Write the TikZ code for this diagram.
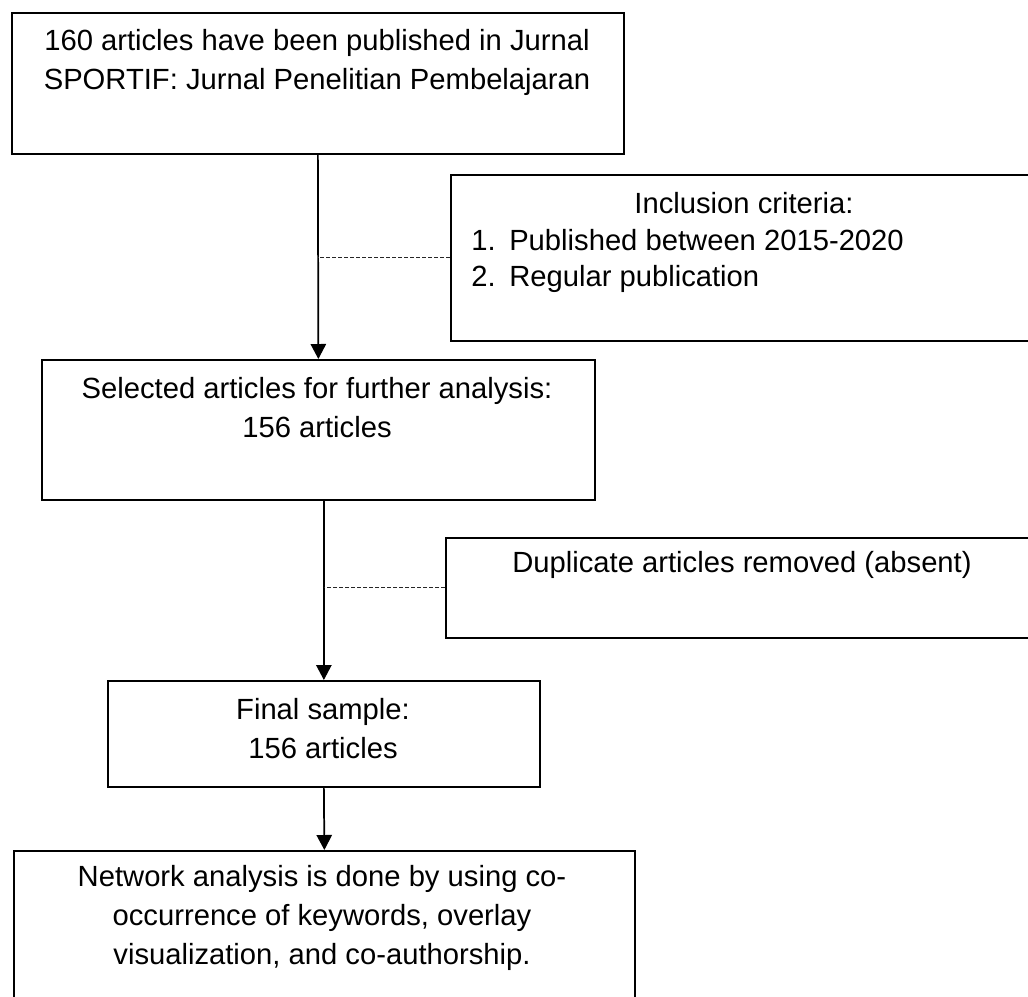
\documentclass[tikz,border=0pt]{standalone}
\usepackage{fontspec}
\setmainfont{Liberation Sans}
\usetikzlibrary{arrows.meta}
\begin{document}
\begin{tikzpicture}[x=0.75pt,y=-0.75pt,
  box/.style={draw, line width=1.3pt, inner sep=0pt, anchor=north west},
  txt/.style={inner sep=0pt, align=center, font=\fontsize{21.9}{29.25}\selectfont},
  arr/.style={line width=1.3pt, -{Triangle[length=11.25pt,width=11.5pt]}},
  dsh/.style={line width=0.75pt, dash pattern=on 3pt off 1.5pt, draw=black!85}]
\useasboundingbox (0,0) rectangle (1028,996);
\clip (0,0) rectangle (1028,996);
\fill[white] (0,0) rectangle (1028,996);
% boxes
\node[box, minimum width=459pt, minimum height=105.75pt] (b1) at (11,12) {};
\node[box, minimum width=442.5pt, minimum height=124.5pt] (b2) at (450,174) {};
\node[box, minimum width=414.75pt, minimum height=105pt] (b3) at (41,359) {};
\node[box, minimum width=446.25pt, minimum height=75pt] (b4) at (445,537) {};
\node[box, minimum width=324pt, minimum height=79.5pt] (b5) at (107,680) {};
\node[box, minimum width=465.75pt, minimum height=120pt] (b6) at (13,850) {};
% texts
\node[txt] (t1) at (317,62.5) {160 articles have been published in Jurnal\\SPORTIF: Jurnal Penelitian Pembelajaran};
\node[txt] (t2a) at (744,203) {Inclusion criteria:};
\node[txt, align=left, anchor=west, font=\fontsize{21.9}{27}\selectfont] (t2b) at (471,261)
  {\makebox[28.5pt][l]{1.}Published between 2015-2020\\\makebox[28.5pt][l]{2.}Regular publication};
\node[txt] (t3) at (317,407.5) {Selected articles for further analysis:\\156 articles};
\node[txt] (t4) at (742,565) {Duplicate articles removed (absent)};
\node[txt] (t5) at (323,729) {Final sample:\\156 articles};
\node[txt] (t6) at (322,918) {Network analysis is done by using co-\\occurrence of keywords, overlay\\visualization, and co-authorship.};
% connectors
\draw[arr] (b1.south) -- (b3.north);
\draw[arr] (b5.north |- b3.south) -- (b5.north);
\draw[arr] (b5.south) -- (b6.north);
\draw[dsh] (b2.west) -- (b2.west -| b1.south);
\draw[dsh] (b4.west) -- (b4.west -| b5.north);
\end{tikzpicture}
\end{document}
